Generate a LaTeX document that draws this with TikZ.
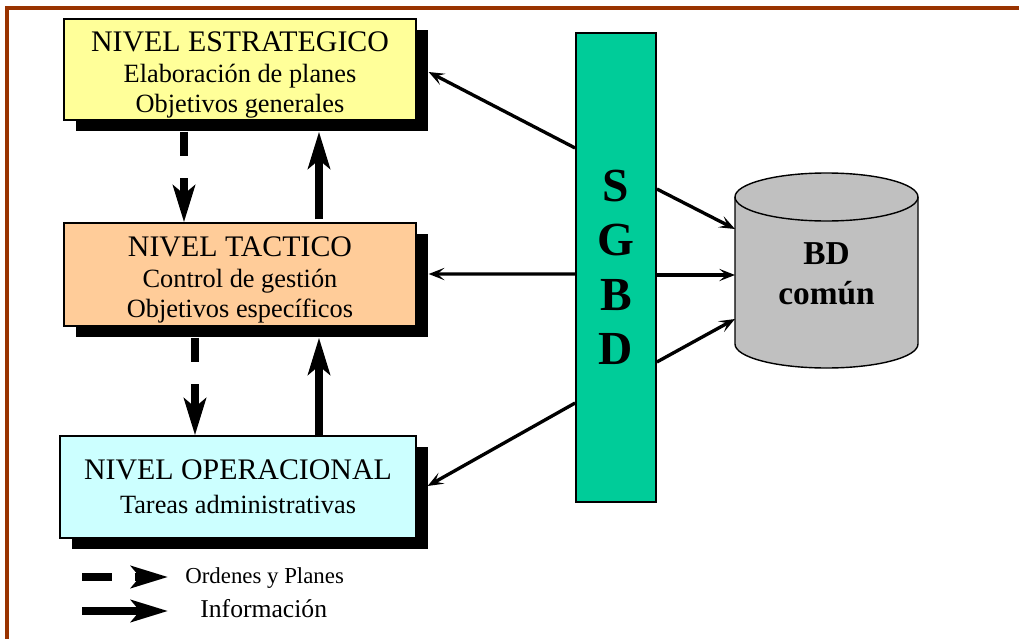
\documentclass[tikz,border=0pt]{standalone}
\usepackage{fontspec}
\setmainfont{Liberation Serif}
\usetikzlibrary{arrows.meta, calc, positioning, shadows, shapes.geometric}

\definecolor{borde}{HTML}{993300}
\definecolor{amarillo}{HTML}{FFFF99}
\definecolor{naranja}{HTML}{FFCC99}
\definecolor{celeste}{HTML}{CCFFFF}
\definecolor{verde}{HTML}{00CC99}
\definecolor{gris}{HTML}{C0C0C0}

\newcommand{\titulo}{\fontsize{17}{20}\selectfont}

\tikzset{
    nivel/.style={draw=black, line width=0.8pt, rectangle, inner sep=0pt, align=center,
        font=\fontsize{15}{17.6}\selectfont,
        drop shadow={shadow xshift=0.24cm, shadow yshift=-0.22cm, fill=black, opacity=1}},
    info/.style={line width=4pt, -{Stealth[length=21pt, width=12.5pt, inset=5pt]}},
    orden/.style={info, dash pattern=on 13.6pt off 13pt},
    enlace/.style={line width=1.9pt, -{Stealth[length=9pt, width=7pt, inset=4pt]}}
}

\begin{document}
\begin{tikzpicture}[x=0.02cm, y=-0.02cm]
    \def \rx {91.5}
    \def \ry {24}
    \def \h {73.5}
    \useasboundingbox (0,0) rectangle (1019,639);
    \draw[borde, line width=2.2pt] (1019,8) -- (7,8) -- (7,639);

    % niveles de la organizacion
    \node[nivel, fill=amarillo, minimum width=7.04cm, minimum height=2.02cm] (estr) at (240,69.5)
        {\rule{0pt}{17.5pt}{\titulo NIVEL ESTRATEGICO}\\ Elaboración de planes\\ Objetivos generales};
    \node[nivel, fill=naranja, minimum width=7.04cm, minimum height=2.06cm] (tact) at (240,274.5)
        {\rule{0pt}{17.5pt}{\titulo NIVEL TACTICO}\\ Control de gestión\\ Objetivos específicos};
    \node[nivel, fill=celeste, minimum width=7.12cm, minimum height=2.04cm] (oper) at (238,487)
        {{\titulo NIVEL OPERACIONAL}\\[2pt] Tareas administrativas};

    % SGBD
    \node[draw, line width=1pt, fill=verde, minimum width=1.6cm, minimum height=9.38cm,
        align=center, font=\fontsize{27}{31}\selectfont\bfseries] (sgbd) at (616,267.5) {S\\G\\B\\D};

    % base de datos comun
    \coordinate (bd) at (826.5,270.5);
    \begin{scope}[shift={(bd)}, x=0.02cm, y=0.02cm, line width=0.8pt]
        \draw[fill=gris] (-\rx,\h) -- (-\rx,-\h)
            arc[start angle=180, end angle=360, x radius=\rx, y radius=\ry] -- (\rx,\h)
            arc[start angle=0, end angle=180, x radius=\rx, y radius=\ry] -- cycle;
        \draw (-\rx,\h) arc[start angle=180, end angle=360, x radius=\rx, y radius=\ry];
    \end{scope}
    \node[align=center, font=\fontsize{19}{22.7}\selectfont\bfseries] (bdtexto)
        at ($(bd)+(0,3)$) {BD\\común};

    % flujos entre niveles
    \draw[orden] ($(estr.south)+(-56,11)$) -- ($(tact.north)+(-56,0)$);
    \draw[info] ($(tact.north)+(79,-3)$) -- ($(estr.south)+(79,11)$);
    \draw[orden] ($(tact.south)+(-45,11)$) -- ($(oper.north)+(-43,0)$);
    \draw[info] ($(oper.north)+(81,2)$) -- ($(tact.south)+(79,11)$);

    % enlaces con el SGBD
    \draw[enlace] ($(sgbd.west)+(0,-119.5)$) -- ($(estr.east)+(12,2.5)$);
    \draw[enlace] ($(sgbd.west)+(0,6.5)$) -- ($(tact.east)+(12,-0.5)$);
    \draw[enlace] ($(sgbd.west)+(0,135.5)$) -- ($(oper.east)+(11,-1)$);
    \draw[enlace] ($(sgbd.east)+(0,-78.5)$) -- ($(bd)+(-\rx,-41.5)$);
    \draw[enlace] ($(sgbd.east)+(0,7.5)$) -- ($(bd)+(-\rx,4.5)$);
    \draw[enlace] ($(sgbd.east)+(0,94.5)$) -- ($(bd)+(-\rx,48.5)$);

    % leyenda
    \coordinate (o1) at (82,577);
    \coordinate (o2) at (168,577);
    \coordinate (i1) at (82,611);
    \coordinate (i2) at (168,611);
    \draw[orden, dash pattern=on 17pt off 13pt] (o1) -- (o2);
    \draw[info] (i1) -- (i2);
    \node[right, inner sep=0pt, font=\fontsize{13}{15}\selectfont] (ordenes) at (185,578) {Ordenes y Planes};
    \node[right, inner sep=0pt, font=\fontsize{14.6}{17}\selectfont] (informacion) at (200,609) {Información};
\end{tikzpicture}
\end{document}
